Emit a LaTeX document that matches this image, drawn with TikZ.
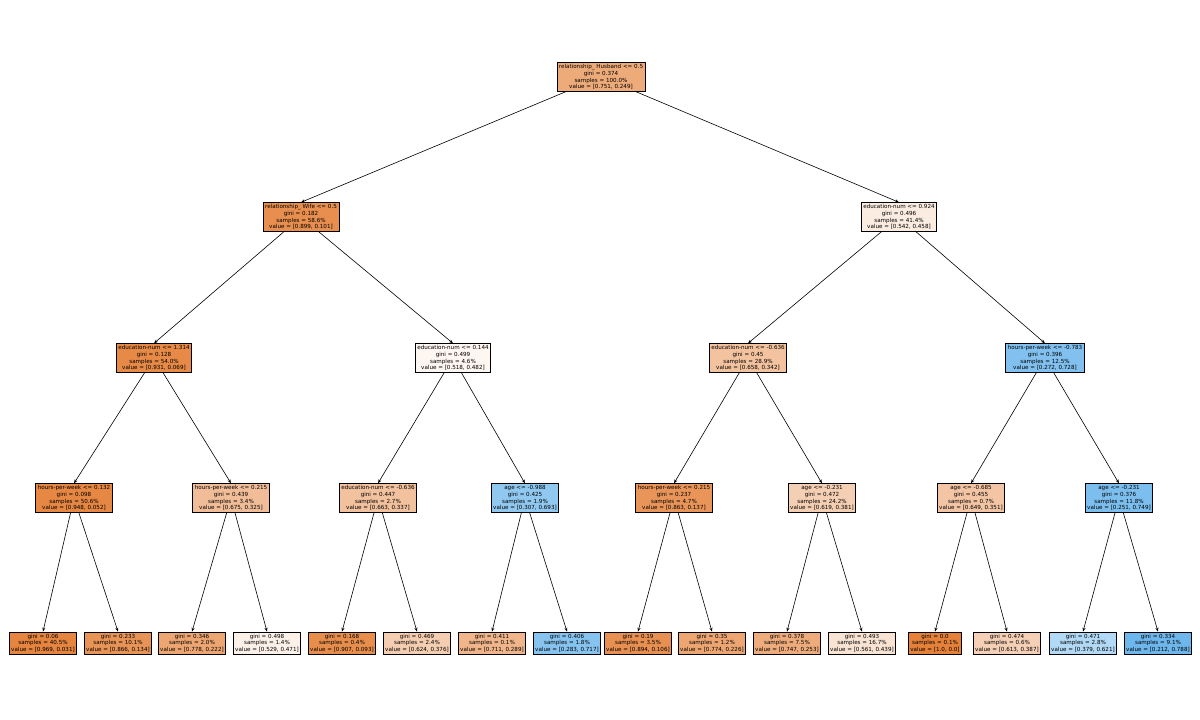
\documentclass[tikz,border=0pt]{standalone}
\usepackage{fontspec}
\setmainfont{DejaVu Sans}
\usetikzlibrary{arrows.meta}
\definecolor{co}{RGB}{229,129,57}
\definecolor{cb}{RGB}{57,157,229}
\tikzset{tn/.style={draw=black,line width=0.6pt,align=center,inner sep=2pt,font=\fontsize{5.6}{6.6}\selectfont},
 ed/.style={-{Stealth[length=4pt,width=3pt]},line width=0.6pt}}
\newcommand{\nd}[5]{\node[tn,fill=#4] (#1) at (#2,#3) {#5};}
\begin{document}
\begin{tikzpicture}[x=1pt,y=-1pt]
\useasboundingbox (0,0) rectangle (1200,720);
\nd{r}{601}{77}{co!67!white}{relationship\_ Husband <= 0.5\\gini = 0.374\\samples = 100.0\%\\value = [0.751, 0.249]}
\nd{a}{301}{217}{co!89!white}{relationship\_ Wife <= 0.5\\gini = 0.182\\samples = 58.6\%\\value = [0.899, 0.101]}
\nd{b}{899}{217}{co!15!white}{education-num <= 0.924\\gini = 0.496\\samples = 41.4\%\\value = [0.542, 0.458]}
\nd{aa}{154}{358}{co!93!white}{education-num <= 1.314\\gini = 0.128\\samples = 54.0\%\\value = [0.931, 0.069]}
\nd{ab}{453}{358}{co!7!white}{education-num <= 0.144\\gini = 0.499\\samples = 4.6\%\\value = [0.518, 0.482]}
\nd{ba}{748}{358}{co!48!white}{education-num <= -0.636\\gini = 0.45\\samples = 28.9\%\\value = [0.658, 0.342]}
\nd{bb}{1045}{358}{cb!63!white}{hours-per-week <= -0.783\\gini = 0.396\\samples = 12.5\%\\value = [0.272, 0.728]}
\nd{aaa}{74}{498}{co!95!white}{hours-per-week <= 0.132\\gini = 0.098\\samples = 50.6\%\\value = [0.948, 0.052]}
\nd{aab}{231}{498}{co!52!white}{hours-per-week <= 0.215\\gini = 0.439\\samples = 3.4\%\\value = [0.675, 0.325]}
\nd{aba}{378}{498}{co!49!white}{education-num <= -0.636\\gini = 0.447\\samples = 2.7\%\\value = [0.663, 0.337]}
\nd{abb}{525}{498}{cb!56!white}{age <= -0.988\\gini = 0.425\\samples = 1.9\%\\value = [0.307, 0.693]}
\nd{baa}{674}{498}{co!84!white}{hours-per-week <= 0.215\\gini = 0.237\\samples = 4.7\%\\value = [0.863, 0.137]}
\nd{bab}{822}{498}{co!38!white}{age <= -0.231\\gini = 0.472\\samples = 24.2\%\\value = [0.619, 0.381]}
\nd{bba}{971}{498}{co!46!white}{age <= -0.685\\gini = 0.455\\samples = 0.7\%\\value = [0.649, 0.351]}
\nd{bbb}{1119}{498}{cb!66!white}{age <= -0.231\\gini = 0.376\\samples = 11.8\%\\value = [0.251, 0.749]}
\nd{l1}{43}{643}{co!97!white}{gini = 0.06\\samples = 40.5\%\\value = [0.969, 0.031]}
\nd{l2}{118}{643}{co!85!white}{gini = 0.233\\samples = 10.1\%\\value = [0.866, 0.134]}
\nd{l3}{192}{643}{co!71!white}{gini = 0.346\\samples = 2.0\%\\value = [0.778, 0.222]}
\nd{l4}{267}{643}{co!11!white}{gini = 0.498\\samples = 1.4\%\\value = [0.529, 0.471]}
\nd{l5}{342}{643}{co!90!white}{gini = 0.168\\samples = 0.4\%\\value = [0.907, 0.093]}
\nd{l6}{417}{643}{co!40!white}{gini = 0.469\\samples = 2.4\%\\value = [0.624, 0.376]}
\nd{l7}{492}{643}{co!59!white}{gini = 0.411\\samples = 0.1\%\\value = [0.711, 0.289]}
\nd{l8}{567}{643}{cb!61!white}{gini = 0.406\\samples = 1.8\%\\value = [0.283, 0.717]}
\nd{l9}{638}{643}{co!88!white}{gini = 0.19\\samples = 3.5\%\\value = [0.894, 0.106]}
\nd{l10}{712}{643}{co!71!white}{gini = 0.35\\samples = 1.2\%\\value = [0.774, 0.226]}
\nd{l11}{787}{643}{co!66!white}{gini = 0.378\\samples = 7.5\%\\value = [0.747, 0.253]}
\nd{l12}{862}{643}{co!22!white}{gini = 0.493\\samples = 16.7\%\\value = [0.561, 0.439]}
\nd{l13}{935}{643}{co}{gini = 0.0\\samples = 0.1\%\\value = [1.0, 0.0]}
\nd{l14}{1007}{643}{co!37!white}{gini = 0.474\\samples = 0.6\%\\value = [0.613, 0.387]}
\nd{l15}{1083}{643}{cb!39!white}{gini = 0.471\\samples = 2.8\%\\value = [0.379, 0.621]}
\nd{l16}{1158}{643}{cb!73!white}{gini = 0.334\\samples = 9.1\%\\value = [0.212, 0.788]}
\foreach \p/\c in {r/a,r/b,a/aa,a/ab,b/ba,b/bb,aa/aaa,aa/aab,ab/aba,ab/abb,ba/baa,ba/bab,bb/bba,bb/bbb,aaa/l1,aaa/l2,aab/l3,aab/l4,aba/l5,aba/l6,abb/l7,abb/l8,baa/l9,baa/l10,bab/l11,bab/l12,bba/l13,bba/l14,bbb/l15,bbb/l16}
  \draw[ed] (\p) -- (\c.north);
\end{tikzpicture}
\end{document}
